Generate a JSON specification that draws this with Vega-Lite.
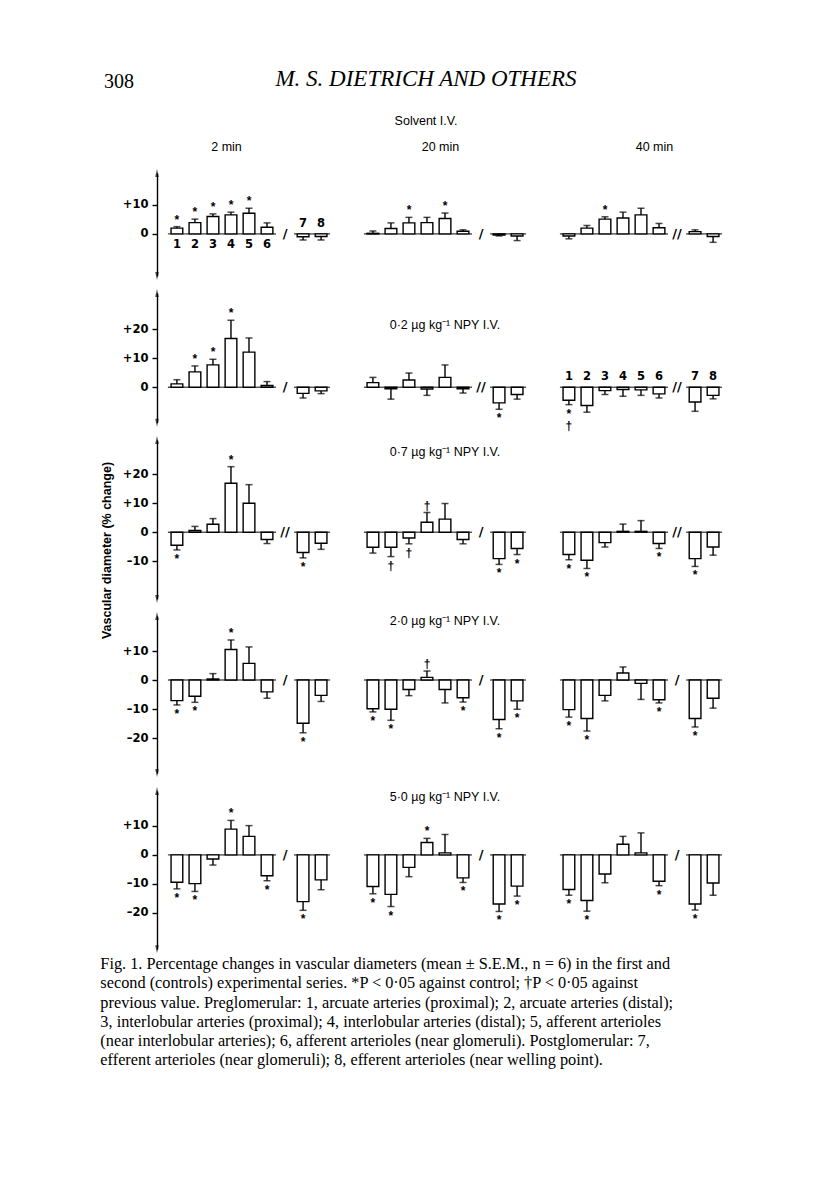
{
"$schema": "https://vega.github.io/schema/vega-lite/v6.json",
"background": "white",
"padding": {"left": 100, "top": 68, "right": 5, "bottom": 5},
"title": {"text": ["Fig. 1. Percentage changes in vascular diameters (mean ± S.E.M., n = 6) in the first and", "second (controls) experimental series. *P < 0·05 against control; †P < 0·05 against", "previous value. Preglomerular: 1, arcuate arteries (proximal); 2, arcuate arteries (distal);", "3, interlobular arteries (proximal); 4, interlobular arteries (distal); 5, afferent arterioles", "(near interlobular arteries); 6, afferent arterioles (near glomeruli). Postglomerular: 7,", "efferent arterioles (near glomeruli); 8, efferent arterioles (near welling point)."], "orient": "bottom", "anchor": "start", "frame": "bounds", "font": "Liberation Serif", "fontSize": 16.3, "fontWeight": "normal", "lineHeight": 19.2, "baseline": "top", "offset": 3, "color": "black"},
"datasets": {
"bars": [
{"dose":"Solvent","time":"2 min","vessel":"1","mean":2.0,"tip":2.5,"sig":"*","num":"1"},
{"dose":"Solvent","time":"2 min","vessel":"2","mean":3.9,"tip":5.1,"sig":"*","num":"2"},
{"dose":"Solvent","time":"2 min","vessel":"3","mean":6.0,"tip":6.9,"sig":"*","num":"3"},
{"dose":"Solvent","time":"2 min","vessel":"4","mean":6.55,"tip":7.5,"sig":"*","num":"4"},
{"dose":"Solvent","time":"2 min","vessel":"5","mean":7.1,"tip":8.85,"sig":"*","num":"5"},
{"dose":"Solvent","time":"2 min","vessel":"6","mean":2.3,"tip":3.8,"num":"6"},
{"dose":"Solvent","time":"2 min","vessel":"7","mean":-1.0,"tip":-2.1,"num":"7","brk":"/"},
{"dose":"Solvent","time":"2 min","vessel":"8","mean":-0.9,"tip":-2.1,"num":"8"},
{"dose":"Solvent","time":"20 min","vessel":"1","mean":0.2,"tip":1.0},
{"dose":"Solvent","time":"20 min","vessel":"2","mean":1.85,"tip":3.8},
{"dose":"Solvent","time":"20 min","vessel":"3","mean":3.8,"tip":5.7,"sig":"*"},
{"dose":"Solvent","time":"20 min","vessel":"4","mean":3.9,"tip":5.7},
{"dose":"Solvent","time":"20 min","vessel":"5","mean":5.3,"tip":7.2,"sig":"*"},
{"dose":"Solvent","time":"20 min","vessel":"6","mean":0.9,"tip":1.4},
{"dose":"Solvent","time":"20 min","vessel":"7","mean":-0.4,"tip":-0.7,"brk":"/"},
{"dose":"Solvent","time":"20 min","vessel":"8","mean":-0.7,"tip":-2.3},
{"dose":"Solvent","time":"40 min","vessel":"1","mean":-0.7,"tip":-1.7},
{"dose":"Solvent","time":"40 min","vessel":"2","mean":2.0,"tip":2.9},
{"dose":"Solvent","time":"40 min","vessel":"3","mean":5.1,"tip":5.9,"sig":"*"},
{"dose":"Solvent","time":"40 min","vessel":"4","mean":5.5,"tip":7.5},
{"dose":"Solvent","time":"40 min","vessel":"5","mean":6.55,"tip":8.85},
{"dose":"Solvent","time":"40 min","vessel":"6","mean":2.1,"tip":3.6},
{"dose":"Solvent","time":"40 min","vessel":"7","mean":0.8,"tip":1.4,"brk":"//"},
{"dose":"Solvent","time":"40 min","vessel":"8","mean":-0.9,"tip":-2.9},
{"dose":"0·2","time":"2 min","vessel":"1","mean":1.15,"tip":2.6},
{"dose":"0·2","time":"2 min","vessel":"2","mean":5.3,"tip":7.35,"sig":"*"},
{"dose":"0·2","time":"2 min","vessel":"3","mean":7.7,"tip":9.65,"sig":"*"},
{"dose":"0·2","time":"2 min","vessel":"4","mean":16.8,"tip":23.1,"sig":"*"},
{"dose":"0·2","time":"2 min","vessel":"5","mean":12.1,"tip":17.0},
{"dose":"0·2","time":"2 min","vessel":"6","mean":0.6,"tip":1.95},
{"dose":"0·2","time":"2 min","vessel":"7","mean":-2.1,"tip":-3.7,"brk":"/"},
{"dose":"0·2","time":"2 min","vessel":"8","mean":-1.25,"tip":-2.2},
{"dose":"0·2","time":"20 min","vessel":"1","mean":1.6,"tip":3.4},
{"dose":"0·2","time":"20 min","vessel":"2","mean":-0.5,"tip":-4.1},
{"dose":"0·2","time":"20 min","vessel":"3","mean":2.5,"tip":4.9},
{"dose":"0·2","time":"20 min","vessel":"4","mean":-0.6,"tip":-2.8},
{"dose":"0·2","time":"20 min","vessel":"5","mean":3.4,"tip":7.7},
{"dose":"0·2","time":"20 min","vessel":"6","mean":-0.5,"tip":-2.0},
{"dose":"0·2","time":"20 min","vessel":"7","mean":-5.4,"tip":-7.6,"sig":"*","brk":"//"},
{"dose":"0·2","time":"20 min","vessel":"8","mean":-2.5,"tip":-4.1},
{"dose":"0·2","time":"40 min","vessel":"1","mean":-4.5,"tip":-6.0,"sig":"*\n†","num":"1"},
{"dose":"0·2","time":"40 min","vessel":"2","mean":-6.3,"tip":-8.6,"num":"2"},
{"dose":"0·2","time":"40 min","vessel":"3","mean":-1.15,"tip":-2.5,"num":"3"},
{"dose":"0·2","time":"40 min","vessel":"4","mean":-0.8,"tip":-3.1,"num":"4"},
{"dose":"0·2","time":"40 min","vessel":"5","mean":-0.9,"tip":-2.8,"num":"5"},
{"dose":"0·2","time":"40 min","vessel":"6","mean":-2.3,"tip":-3.7,"num":"6"},
{"dose":"0·2","time":"40 min","vessel":"7","mean":-5.1,"tip":-8.3,"num":"7","brk":"//"},
{"dose":"0·2","time":"40 min","vessel":"8","mean":-2.8,"tip":-4.0,"num":"8"},
{"dose":"0·7","time":"2 min","vessel":"1","mean":-4.5,"tip":-6.1,"sig":"*"},
{"dose":"0·7","time":"2 min","vessel":"2","mean":0.6,"tip":2.0},
{"dose":"0·7","time":"2 min","vessel":"3","mean":2.75,"tip":4.7},
{"dose":"0·7","time":"2 min","vessel":"4","mean":16.9,"tip":22.6,"sig":"*"},
{"dose":"0·7","time":"2 min","vessel":"5","mean":10.0,"tip":16.4},
{"dose":"0·7","time":"2 min","vessel":"6","mean":-2.5,"tip":-3.9},
{"dose":"0·7","time":"2 min","vessel":"7","mean":-7.0,"tip":-8.85,"sig":"*","brk":"//"},
{"dose":"0·7","time":"2 min","vessel":"8","mean":-3.8,"tip":-5.9},
{"dose":"0·7","time":"20 min","vessel":"1","mean":-5.2,"tip":-7.2},
{"dose":"0·7","time":"20 min","vessel":"2","mean":-5.2,"tip":-8.4,"sig":"†"},
{"dose":"0·7","time":"20 min","vessel":"3","mean":-2.0,"tip":-4.0,"sig":"†"},
{"dose":"0·7","time":"20 min","vessel":"4","mean":3.45,"tip":6.8,"sig":"†"},
{"dose":"0·7","time":"20 min","vessel":"5","mean":4.5,"tip":9.9},
{"dose":"0·7","time":"20 min","vessel":"6","mean":-2.5,"tip":-4.0},
{"dose":"0·7","time":"20 min","vessel":"7","mean":-9.1,"tip":-11.1,"sig":"*","brk":"/"},
{"dose":"0·7","time":"20 min","vessel":"8","mean":-5.6,"tip":-7.7,"sig":"*"},
{"dose":"0·7","time":"40 min","vessel":"1","mean":-7.7,"tip":-9.5,"sig":"*"},
{"dose":"0·7","time":"40 min","vessel":"2","mean":-9.65,"tip":-12.5,"sig":"*"},
{"dose":"0·7","time":"40 min","vessel":"3","mean":-3.6,"tip":-5.1},
{"dose":"0·7","time":"40 min","vessel":"4","mean":0.3,"tip":2.8},
{"dose":"0·7","time":"40 min","vessel":"5","mean":0.3,"tip":4.0},
{"dose":"0·7","time":"40 min","vessel":"6","mean":-3.9,"tip":-5.6,"sig":"*"},
{"dose":"0·7","time":"40 min","vessel":"7","mean":-9.1,"tip":-11.8,"sig":"*","brk":"//"},
{"dose":"0·7","time":"40 min","vessel":"8","mean":-5.1,"tip":-7.9},
{"dose":"2·0","time":"2 min","vessel":"1","mean":-7.1,"tip":-8.6,"sig":"*"},
{"dose":"2·0","time":"2 min","vessel":"2","mean":-5.6,"tip":-7.7,"sig":"*"},
{"dose":"2·0","time":"2 min","vessel":"3","mean":0.35,"tip":2.2},
{"dose":"2·0","time":"2 min","vessel":"4","mean":10.5,"tip":13.8,"sig":"*"},
{"dose":"2·0","time":"2 min","vessel":"5","mean":5.75,"tip":11.4},
{"dose":"2·0","time":"2 min","vessel":"6","mean":-4.1,"tip":-6.3},
{"dose":"2·0","time":"2 min","vessel":"7","mean":-14.9,"tip":-18.2,"sig":"*","brk":"/"},
{"dose":"2·0","time":"2 min","vessel":"8","mean":-5.3,"tip":-7.4},
{"dose":"2·0","time":"20 min","vessel":"1","mean":-9.9,"tip":-11.0,"sig":"*"},
{"dose":"2·0","time":"20 min","vessel":"2","mean":-10.1,"tip":-13.9,"sig":"*"},
{"dose":"2·0","time":"20 min","vessel":"3","mean":-3.3,"tip":-5.4},
{"dose":"2·0","time":"20 min","vessel":"4","mean":0.9,"tip":3.1,"sig":"†"},
{"dose":"2·0","time":"20 min","vessel":"5","mean":-3.3,"tip":-7.9},
{"dose":"2·0","time":"20 min","vessel":"6","mean":-6.1,"tip":-7.6,"sig":"*"},
{"dose":"2·0","time":"20 min","vessel":"7","mean":-13.6,"tip":-16.8,"sig":"*","brk":"/"},
{"dose":"2·0","time":"20 min","vessel":"8","mean":-7.2,"tip":-10.1,"sig":"*"},
{"dose":"2·0","time":"40 min","vessel":"1","mean":-10.2,"tip":-12.8,"sig":"*"},
{"dose":"2·0","time":"40 min","vessel":"2","mean":-13.3,"tip":-17.6,"sig":"*"},
{"dose":"2·0","time":"40 min","vessel":"3","mean":-5.3,"tip":-7.2},
{"dose":"2·0","time":"40 min","vessel":"4","mean":2.4,"tip":4.5},
{"dose":"2·0","time":"40 min","vessel":"5","mean":-1.15,"tip":-6.7},
{"dose":"2·0","time":"40 min","vessel":"6","mean":-6.8,"tip":-7.9,"sig":"*"},
{"dose":"2·0","time":"40 min","vessel":"7","mean":-13.3,"tip":-16.2,"sig":"*","brk":"/"},
{"dose":"2·0","time":"40 min","vessel":"8","mean":-6.3,"tip":-9.7},
{"dose":"5·0","time":"2 min","vessel":"1","mean":-9.4,"tip":-11.7,"sig":"*"},
{"dose":"5·0","time":"2 min","vessel":"2","mean":-9.9,"tip":-12.6,"sig":"*"},
{"dose":"5·0","time":"2 min","vessel":"3","mean":-1.4,"tip":-3.5},
{"dose":"5·0","time":"2 min","vessel":"4","mean":8.9,"tip":11.9,"sig":"*"},
{"dose":"5·0","time":"2 min","vessel":"5","mean":6.4,"tip":10.1},
{"dose":"5·0","time":"2 min","vessel":"6","mean":-7.2,"tip":-8.9,"sig":"*"},
{"dose":"5·0","time":"2 min","vessel":"7","mean":-16.1,"tip":-19.1,"sig":"*","brk":"/"},
{"dose":"5·0","time":"2 min","vessel":"8","mean":-8.6,"tip":-12.0},
{"dose":"5·0","time":"20 min","vessel":"1","mean":-10.9,"tip":-13.4,"sig":"*"},
{"dose":"5·0","time":"20 min","vessel":"2","mean":-13.6,"tip":-17.8,"sig":"*"},
{"dose":"5·0","time":"20 min","vessel":"3","mean":-4.3,"tip":-7.5},
{"dose":"5·0","time":"20 min","vessel":"4","mean":4.3,"tip":5.7,"sig":"*"},
{"dose":"5·0","time":"20 min","vessel":"5","mean":0.7,"tip":7.05},
{"dose":"5·0","time":"20 min","vessel":"6","mean":-7.9,"tip":-9.5,"sig":"*"},
{"dose":"5·0","time":"20 min","vessel":"7","mean":-16.9,"tip":-19.5,"sig":"*","brk":"/"},
{"dose":"5·0","time":"20 min","vessel":"8","mean":-10.75,"tip":-14.2,"sig":"*"},
{"dose":"5·0","time":"40 min","vessel":"1","mean":-11.9,"tip":-13.9,"sig":"*"},
{"dose":"5·0","time":"40 min","vessel":"2","mean":-15.7,"tip":-19.4,"sig":"*"},
{"dose":"5·0","time":"40 min","vessel":"3","mean":-6.6,"tip":-9.6},
{"dose":"5·0","time":"40 min","vessel":"4","mean":3.7,"tip":6.4},
{"dose":"5·0","time":"40 min","vessel":"5","mean":0.7,"tip":7.6},
{"dose":"5·0","time":"40 min","vessel":"6","mean":-9.1,"tip":-10.6,"sig":"*"},
{"dose":"5·0","time":"40 min","vessel":"7","mean":-16.9,"tip":-19.0,"sig":"*","brk":"/"},
{"dose":"5·0","time":"40 min","vessel":"8","mean":-9.7,"tip":-13.9}
]
},
"columns": 3,
"spacing": {"row": 17, "column": 12},
"bounds": "flush",
"concat": [
{"width": 184, "height": 102.95, "data": {"name": "bars"}, "transform": [{"filter": "datum.dose == 'Solvent' && datum.time == '2 min'"}],
 "title": {"text": "308", "anchor": "start", "frame": "group", "dx": -53, "baseline": "alphabetic", "offset": 31.8, "font": "Liberation Serif", "fontSize": 20, "fontWeight": "normal", "color": "black"},
 "encoding": {"x": {"field": "vessel", "type": "ordinal", "scale": {"domain": ["1","2","3","4","5","6","gap","7","8"], "paddingInner": 0.35, "paddingOuter": 0.78}, "axis": {"orient": "top", "labels": false, "ticks": false, "domain": false, "title": "2 min", "titleX": 69, "titleY": -23, "titleBaseline": "alphabetic", "titleAlign": "center", "titleFont": "Liberation Sans", "titleFontSize": 12.5, "titleFontWeight": "normal"}}},
 "layer": [
  {"mark": {"type": "tick", "thickness": 1.4, "size": 18}, "encoding": {"y": {"datum": 0}}},
  {"mark": {"type": "bar", "fill": "white", "stroke": "black", "strokeWidth": 1.4}, "encoding": {"y": {"field": "mean", "type": "quantitative", "scale": {"domain": [-14.5, 21], "nice": false, "zero": false}, "axis": {"values": [0, 10], "title": null}}, "y2": {"datum": 0}}},
  {"mark": {"type": "rule", "strokeWidth": 1.4}, "encoding": {"y": {"field": "mean", "type": "quantitative"}, "y2": {"field": "tip"}}},
  {"mark": {"type": "tick", "thickness": 1.5, "size": 7}, "encoding": {"y": {"field": "tip", "type": "quantitative"}}},
  {"transform": [{"filter": "datum.sig && datum.mean >= 0"}], "mark": {"type": "text", "style": "sigp"}, "encoding": {"y": {"field": "tip", "type": "quantitative"}, "text": {"field": "sig"}}},
  {"transform": [{"filter": "datum.sig && datum.mean < 0"}], "mark": {"type": "text", "style": "sign"}, "encoding": {"y": {"field": "tip", "type": "quantitative"}, "text": {"field": "sig"}}},
  {"transform": [{"filter": "datum.num && datum.mean >= 0"}], "mark": {"type": "text", "style": "nump"}, "encoding": {"y": {"datum": 0}, "text": {"field": "num"}}},
  {"transform": [{"filter": "datum.num && datum.mean < 0"}], "mark": {"type": "text", "style": "numn"}, "encoding": {"y": {"datum": 0}, "text": {"field": "num"}}},
  {"transform": [{"filter": "datum.brk"}], "mark": {"type": "text", "style": "brk"}, "encoding": {"x": {"datum": "gap", "axis": {"orient": "top", "labels": false, "ticks": false, "domain": false, "title": "2 min", "titleX": 69, "titleY": -23, "titleBaseline": "alphabetic", "titleAlign": "center", "titleFont": "Liberation Sans", "titleFontSize": 12.5, "titleFontWeight": "normal"}}, "y": {"datum": 0}, "text": {"field": "brk"}}},
  {"transform": [{"filter": "datum.vessel == '1'"}], "mark": {"type": "point", "shape": "M0,-1L0.45,1L-0.45,1Z", "filled": true, "size": 64, "strokeWidth": 0}, "encoding": {"x": {"value": 0}, "y": {"datum": 21}}},
  {"transform": [{"filter": "datum.vessel == '1'"}], "mark": {"type": "point", "shape": "M0,1L0.45,-1L-0.45,-1Z", "filled": true, "size": 64, "strokeWidth": 0}, "encoding": {"x": {"value": 0}, "y": {"datum": -14.5}}}
 ]},
{"width": 184, "height": 102.95, "data": {"name": "bars"}, "transform": [{"filter": "datum.dose == 'Solvent' && datum.time == '20 min'"}],
 "title": {"text": "M. S. DIETRICH AND OTHERS", "subtitle": "Solvent I.V.", "anchor": "middle", "frame": "group", "dx": -19, "baseline": "alphabetic", "offset": -5.6, "font": "Liberation Serif", "fontStyle": "italic", "fontSize": 23, "fontWeight": "normal", "color": "black", "subtitleFont": "Liberation Sans", "subtitleFontSize": 12.5, "subtitleColor": "black", "subtitlePadding": 16},
 "encoding": {"x": {"field": "vessel", "type": "ordinal", "scale": {"domain": ["1","2","3","4","5","6","gap","7","8"], "paddingInner": 0.35, "paddingOuter": 0.78}, "axis": {"orient": "top", "labels": false, "ticks": false, "domain": false, "title": "20 min", "titleX": 87, "titleY": -23, "titleBaseline": "alphabetic", "titleAlign": "center", "titleFont": "Liberation Sans", "titleFontSize": 12.5, "titleFontWeight": "normal"}}},
 "layer": [
  {"mark": {"type": "tick", "thickness": 1.4, "size": 18}, "encoding": {"y": {"datum": 0, "axis": null}}},
  {"mark": {"type": "bar", "fill": "white", "stroke": "black", "strokeWidth": 1.4}, "encoding": {"y": {"field": "mean", "type": "quantitative", "scale": {"domain": [-14.5, 21], "nice": false, "zero": false}, "axis": null}, "y2": {"datum": 0}}},
  {"mark": {"type": "rule", "strokeWidth": 1.4}, "encoding": {"y": {"field": "mean", "type": "quantitative", "axis": null}, "y2": {"field": "tip"}}},
  {"mark": {"type": "tick", "thickness": 1.5, "size": 7}, "encoding": {"y": {"field": "tip", "type": "quantitative", "axis": null}}},
  {"transform": [{"filter": "datum.sig && datum.mean >= 0"}], "mark": {"type": "text", "style": "sigp"}, "encoding": {"y": {"field": "tip", "type": "quantitative", "axis": null}, "text": {"field": "sig"}}},
  {"transform": [{"filter": "datum.sig && datum.mean < 0"}], "mark": {"type": "text", "style": "sign"}, "encoding": {"y": {"field": "tip", "type": "quantitative", "axis": null}, "text": {"field": "sig"}}},
  {"transform": [{"filter": "datum.brk"}], "mark": {"type": "text", "style": "brk"}, "encoding": {"x": {"datum": "gap", "axis": {"orient": "top", "labels": false, "ticks": false, "domain": false, "title": "20 min", "titleX": 87, "titleY": -23, "titleBaseline": "alphabetic", "titleAlign": "center", "titleFont": "Liberation Sans", "titleFontSize": 12.5, "titleFontWeight": "normal"}}, "y": {"datum": 0, "axis": null}, "text": {"field": "brk"}}}
 ]},
{"width": 184, "height": 102.95, "data": {"name": "bars"}, "transform": [{"filter": "datum.dose == 'Solvent' && datum.time == '40 min'"}],
 "encoding": {"x": {"field": "vessel", "type": "ordinal", "scale": {"domain": ["1","2","3","4","5","6","gap","7","8"], "paddingInner": 0.35, "paddingOuter": 0.78}, "axis": {"orient": "top", "labels": false, "ticks": false, "domain": false, "title": "40 min", "titleX": 105, "titleY": -23, "titleBaseline": "alphabetic", "titleAlign": "center", "titleFont": "Liberation Sans", "titleFontSize": 12.5, "titleFontWeight": "normal"}}},
 "layer": [
  {"mark": {"type": "tick", "thickness": 1.4, "size": 18}, "encoding": {"y": {"datum": 0, "axis": null}}},
  {"mark": {"type": "bar", "fill": "white", "stroke": "black", "strokeWidth": 1.4}, "encoding": {"y": {"field": "mean", "type": "quantitative", "scale": {"domain": [-14.5, 21], "nice": false, "zero": false}, "axis": null}, "y2": {"datum": 0}}},
  {"mark": {"type": "rule", "strokeWidth": 1.4}, "encoding": {"y": {"field": "mean", "type": "quantitative", "axis": null}, "y2": {"field": "tip"}}},
  {"mark": {"type": "tick", "thickness": 1.5, "size": 7}, "encoding": {"y": {"field": "tip", "type": "quantitative", "axis": null}}},
  {"transform": [{"filter": "datum.sig && datum.mean >= 0"}], "mark": {"type": "text", "style": "sigp"}, "encoding": {"y": {"field": "tip", "type": "quantitative", "axis": null}, "text": {"field": "sig"}}},
  {"transform": [{"filter": "datum.sig && datum.mean < 0"}], "mark": {"type": "text", "style": "sign"}, "encoding": {"y": {"field": "tip", "type": "quantitative", "axis": null}, "text": {"field": "sig"}}},
  {"transform": [{"filter": "datum.brk"}], "mark": {"type": "text", "style": "brk"}, "encoding": {"x": {"datum": "gap", "axis": {"orient": "top", "labels": false, "ticks": false, "domain": false, "title": "40 min", "titleX": 105, "titleY": -23, "titleBaseline": "alphabetic", "titleAlign": "center", "titleFont": "Liberation Sans", "titleFontSize": 12.5, "titleFontWeight": "normal"}}, "y": {"datum": 0, "axis": null}, "text": {"field": "brk"}}}
 ]},
{"width": 184, "height": 129.63, "data": {"name": "bars"}, "transform": [{"filter": "datum.dose == '0·2' && datum.time == '2 min'"}],
 "encoding": {"x": {"field": "vessel", "type": "ordinal", "scale": {"domain": ["1","2","3","4","5","6","gap","7","8"], "paddingInner": 0.35, "paddingOuter": 0.78}, "axis": null}},
 "layer": [
  {"mark": {"type": "tick", "thickness": 1.4, "size": 18}, "encoding": {"y": {"datum": 0}}},
  {"mark": {"type": "bar", "fill": "white", "stroke": "black", "strokeWidth": 1.4}, "encoding": {"y": {"field": "mean", "type": "quantitative", "scale": {"domain": [-12.2, 32.5], "nice": false, "zero": false}, "axis": {"values": [0, 10, 20], "title": null}}, "y2": {"datum": 0}}},
  {"mark": {"type": "rule", "strokeWidth": 1.4}, "encoding": {"y": {"field": "mean", "type": "quantitative"}, "y2": {"field": "tip"}}},
  {"mark": {"type": "tick", "thickness": 1.5, "size": 7}, "encoding": {"y": {"field": "tip", "type": "quantitative"}}},
  {"transform": [{"filter": "datum.sig && datum.mean >= 0"}], "mark": {"type": "text", "style": "sigp"}, "encoding": {"y": {"field": "tip", "type": "quantitative"}, "text": {"field": "sig"}}},
  {"transform": [{"filter": "datum.sig && datum.mean < 0"}], "mark": {"type": "text", "style": "sign"}, "encoding": {"y": {"field": "tip", "type": "quantitative"}, "text": {"field": "sig"}}},
  {"transform": [{"filter": "datum.brk"}], "mark": {"type": "text", "style": "brk"}, "encoding": {"x": {"datum": "gap", "axis": null}, "y": {"datum": 0}, "text": {"field": "brk"}}},
  {"transform": [{"filter": "datum.vessel == '1'"}], "mark": {"type": "point", "shape": "M0,-1L0.45,1L-0.45,1Z", "filled": true, "size": 64, "strokeWidth": 0}, "encoding": {"x": {"value": 0}, "y": {"datum": 32.5}}},
  {"transform": [{"filter": "datum.vessel == '1'"}], "mark": {"type": "point", "shape": "M0,1L0.45,-1L-0.45,-1Z", "filled": true, "size": 64, "strokeWidth": 0}, "encoding": {"x": {"value": 0}, "y": {"datum": -12.2}}}
 ]},
{"width": 184, "height": 129.63, "data": {"name": "bars"}, "transform": [{"filter": "datum.dose == '0·2' && datum.time == '20 min'"}],
 "title": {"text": "0·2 µg kg⁻¹ NPY I.V.", "anchor": "middle", "frame": "group", "baseline": "alphabetic", "offset": -48.5, "font": "Liberation Sans", "fontSize": 12.5, "fontWeight": "normal", "color": "black"},
 "encoding": {"x": {"field": "vessel", "type": "ordinal", "scale": {"domain": ["1","2","3","4","5","6","gap","7","8"], "paddingInner": 0.35, "paddingOuter": 0.78}, "axis": null}},
 "layer": [
  {"mark": {"type": "tick", "thickness": 1.4, "size": 18}, "encoding": {"y": {"datum": 0, "axis": null}}},
  {"mark": {"type": "bar", "fill": "white", "stroke": "black", "strokeWidth": 1.4}, "encoding": {"y": {"field": "mean", "type": "quantitative", "scale": {"domain": [-12.2, 32.5], "nice": false, "zero": false}, "axis": null}, "y2": {"datum": 0}}},
  {"mark": {"type": "rule", "strokeWidth": 1.4}, "encoding": {"y": {"field": "mean", "type": "quantitative", "axis": null}, "y2": {"field": "tip"}}},
  {"mark": {"type": "tick", "thickness": 1.5, "size": 7}, "encoding": {"y": {"field": "tip", "type": "quantitative", "axis": null}}},
  {"transform": [{"filter": "datum.sig && datum.mean >= 0"}], "mark": {"type": "text", "style": "sigp"}, "encoding": {"y": {"field": "tip", "type": "quantitative", "axis": null}, "text": {"field": "sig"}}},
  {"transform": [{"filter": "datum.sig && datum.mean < 0"}], "mark": {"type": "text", "style": "sign"}, "encoding": {"y": {"field": "tip", "type": "quantitative", "axis": null}, "text": {"field": "sig"}}},
  {"transform": [{"filter": "datum.brk"}], "mark": {"type": "text", "style": "brk"}, "encoding": {"x": {"datum": "gap", "axis": null}, "y": {"datum": 0, "axis": null}, "text": {"field": "brk"}}}
 ]},
{"width": 184, "height": 129.63, "data": {"name": "bars"}, "transform": [{"filter": "datum.dose == '0·2' && datum.time == '40 min'"}],
 "encoding": {"x": {"field": "vessel", "type": "ordinal", "scale": {"domain": ["1","2","3","4","5","6","gap","7","8"], "paddingInner": 0.35, "paddingOuter": 0.78}, "axis": null}},
 "layer": [
  {"mark": {"type": "tick", "thickness": 1.4, "size": 18}, "encoding": {"y": {"datum": 0, "axis": null}}},
  {"mark": {"type": "bar", "fill": "white", "stroke": "black", "strokeWidth": 1.4}, "encoding": {"y": {"field": "mean", "type": "quantitative", "scale": {"domain": [-12.2, 32.5], "nice": false, "zero": false}, "axis": null}, "y2": {"datum": 0}}},
  {"mark": {"type": "rule", "strokeWidth": 1.4}, "encoding": {"y": {"field": "mean", "type": "quantitative", "axis": null}, "y2": {"field": "tip"}}},
  {"mark": {"type": "tick", "thickness": 1.5, "size": 7}, "encoding": {"y": {"field": "tip", "type": "quantitative", "axis": null}}},
  {"transform": [{"filter": "datum.sig && datum.mean >= 0"}], "mark": {"type": "text", "style": "sigp"}, "encoding": {"y": {"field": "tip", "type": "quantitative", "axis": null}, "text": {"field": "sig"}}},
  {"transform": [{"filter": "datum.sig && datum.mean < 0"}], "mark": {"type": "text", "style": "sign"}, "encoding": {"y": {"field": "tip", "type": "quantitative", "axis": null}, "text": {"field": "sig"}}},
  {"transform": [{"filter": "datum.num && datum.mean < 0"}], "mark": {"type": "text", "style": "numn", "dy": -7}, "encoding": {"y": {"datum": 0, "axis": null}, "text": {"field": "num"}}},
  {"transform": [{"filter": "datum.brk"}], "mark": {"type": "text", "style": "brk"}, "encoding": {"x": {"datum": "gap", "axis": null}, "y": {"datum": 0, "axis": null}, "text": {"field": "brk"}}}
 ]},
{"width": 184, "height": 158.92, "data": {"name": "bars"}, "transform": [{"filter": "datum.dose == '0·7' && datum.time == '2 min'"}],
 "encoding": {"x": {"field": "vessel", "type": "ordinal", "scale": {"domain": ["1","2","3","4","5","6","gap","7","8"], "paddingInner": 0.35, "paddingOuter": 0.78}, "axis": null}},
 "layer": [
  {"mark": {"type": "tick", "thickness": 1.4, "size": 18}, "encoding": {"y": {"datum": 0}}},
  {"mark": {"type": "bar", "fill": "white", "stroke": "black", "strokeWidth": 1.4}, "encoding": {"y": {"field": "mean", "type": "quantitative", "scale": {"domain": [-23, 31.8], "nice": false, "zero": false}, "axis": {"values": [-10, 0, 10, 20], "title": "Vascular diameter (% change)", "titleFont": "Liberation Sans", "titleFontWeight": "bold", "titleFontSize": 12.5, "titleY": 110, "titlePadding": 9}}, "y2": {"datum": 0}}},
  {"mark": {"type": "rule", "strokeWidth": 1.4}, "encoding": {"y": {"field": "mean", "type": "quantitative"}, "y2": {"field": "tip"}}},
  {"mark": {"type": "tick", "thickness": 1.5, "size": 7}, "encoding": {"y": {"field": "tip", "type": "quantitative"}}},
  {"transform": [{"filter": "datum.sig && datum.mean >= 0"}], "mark": {"type": "text", "style": "sigp"}, "encoding": {"y": {"field": "tip", "type": "quantitative"}, "text": {"field": "sig"}}},
  {"transform": [{"filter": "datum.sig && datum.mean < 0"}], "mark": {"type": "text", "style": "sign"}, "encoding": {"y": {"field": "tip", "type": "quantitative"}, "text": {"field": "sig"}}},
  {"transform": [{"filter": "datum.brk"}], "mark": {"type": "text", "style": "brk"}, "encoding": {"x": {"datum": "gap", "axis": null}, "y": {"datum": 0}, "text": {"field": "brk"}}},
  {"transform": [{"filter": "datum.vessel == '1'"}], "mark": {"type": "point", "shape": "M0,-1L0.45,1L-0.45,1Z", "filled": true, "size": 64, "strokeWidth": 0}, "encoding": {"x": {"value": 0}, "y": {"datum": 31.8}}},
  {"transform": [{"filter": "datum.vessel == '1'"}], "mark": {"type": "point", "shape": "M0,1L0.45,-1L-0.45,-1Z", "filled": true, "size": 64, "strokeWidth": 0}, "encoding": {"x": {"value": 0}, "y": {"datum": -23}}}
 ]},
{"width": 184, "height": 158.92, "data": {"name": "bars"}, "transform": [{"filter": "datum.dose == '0·7' && datum.time == '20 min'"}],
 "title": {"text": "0·7 µg kg⁻¹ NPY I.V.", "anchor": "middle", "frame": "group", "baseline": "alphabetic", "offset": -28.6, "font": "Liberation Sans", "fontSize": 12.5, "fontWeight": "normal", "color": "black"},
 "encoding": {"x": {"field": "vessel", "type": "ordinal", "scale": {"domain": ["1","2","3","4","5","6","gap","7","8"], "paddingInner": 0.35, "paddingOuter": 0.78}, "axis": null}},
 "layer": [
  {"mark": {"type": "tick", "thickness": 1.4, "size": 18}, "encoding": {"y": {"datum": 0, "axis": null}}},
  {"mark": {"type": "bar", "fill": "white", "stroke": "black", "strokeWidth": 1.4}, "encoding": {"y": {"field": "mean", "type": "quantitative", "scale": {"domain": [-23, 31.8], "nice": false, "zero": false}, "axis": null}, "y2": {"datum": 0}}},
  {"mark": {"type": "rule", "strokeWidth": 1.4}, "encoding": {"y": {"field": "mean", "type": "quantitative", "axis": null}, "y2": {"field": "tip"}}},
  {"mark": {"type": "tick", "thickness": 1.5, "size": 7}, "encoding": {"y": {"field": "tip", "type": "quantitative", "axis": null}}},
  {"transform": [{"filter": "datum.sig && datum.mean >= 0"}], "mark": {"type": "text", "style": "sigp"}, "encoding": {"y": {"field": "tip", "type": "quantitative", "axis": null}, "text": {"field": "sig"}}},
  {"transform": [{"filter": "datum.sig && datum.mean < 0"}], "mark": {"type": "text", "style": "sign"}, "encoding": {"y": {"field": "tip", "type": "quantitative", "axis": null}, "text": {"field": "sig"}}},
  {"transform": [{"filter": "datum.brk"}], "mark": {"type": "text", "style": "brk"}, "encoding": {"x": {"datum": "gap", "axis": null}, "y": {"datum": 0, "axis": null}, "text": {"field": "brk"}}}
 ]},
{"width": 184, "height": 158.92, "data": {"name": "bars"}, "transform": [{"filter": "datum.dose == '0·7' && datum.time == '40 min'"}],
 "encoding": {"x": {"field": "vessel", "type": "ordinal", "scale": {"domain": ["1","2","3","4","5","6","gap","7","8"], "paddingInner": 0.35, "paddingOuter": 0.78}, "axis": null}},
 "layer": [
  {"mark": {"type": "tick", "thickness": 1.4, "size": 18}, "encoding": {"y": {"datum": 0, "axis": null}}},
  {"mark": {"type": "bar", "fill": "white", "stroke": "black", "strokeWidth": 1.4}, "encoding": {"y": {"field": "mean", "type": "quantitative", "scale": {"domain": [-23, 31.8], "nice": false, "zero": false}, "axis": null}, "y2": {"datum": 0}}},
  {"mark": {"type": "rule", "strokeWidth": 1.4}, "encoding": {"y": {"field": "mean", "type": "quantitative", "axis": null}, "y2": {"field": "tip"}}},
  {"mark": {"type": "tick", "thickness": 1.5, "size": 7}, "encoding": {"y": {"field": "tip", "type": "quantitative", "axis": null}}},
  {"transform": [{"filter": "datum.sig && datum.mean >= 0"}], "mark": {"type": "text", "style": "sigp"}, "encoding": {"y": {"field": "tip", "type": "quantitative", "axis": null}, "text": {"field": "sig"}}},
  {"transform": [{"filter": "datum.sig && datum.mean < 0"}], "mark": {"type": "text", "style": "sign"}, "encoding": {"y": {"field": "tip", "type": "quantitative", "axis": null}, "text": {"field": "sig"}}},
  {"transform": [{"filter": "datum.brk"}], "mark": {"type": "text", "style": "brk"}, "encoding": {"x": {"datum": "gap", "axis": null}, "y": {"datum": 0, "axis": null}, "text": {"field": "brk"}}}
 ]},
{"width": 184, "height": 157.09, "data": {"name": "bars"}, "transform": [{"filter": "datum.dose == '2·0' && datum.time == '2 min'"}],
 "encoding": {"x": {"field": "vessel", "type": "ordinal", "scale": {"domain": ["1","2","3","4","5","6","gap","7","8"], "paddingInner": 0.35, "paddingOuter": 0.78}, "axis": null}},
 "layer": [
  {"mark": {"type": "tick", "thickness": 1.4, "size": 18}, "encoding": {"y": {"datum": 0}}},
  {"mark": {"type": "bar", "fill": "white", "stroke": "black", "strokeWidth": 1.4}, "encoding": {"y": {"field": "mean", "type": "quantitative", "scale": {"domain": [-32.1, 22.07], "nice": false, "zero": false}, "axis": {"values": [-20, -10, 0, 10], "title": null}}, "y2": {"datum": 0}}},
  {"mark": {"type": "rule", "strokeWidth": 1.4}, "encoding": {"y": {"field": "mean", "type": "quantitative"}, "y2": {"field": "tip"}}},
  {"mark": {"type": "tick", "thickness": 1.5, "size": 7}, "encoding": {"y": {"field": "tip", "type": "quantitative"}}},
  {"transform": [{"filter": "datum.sig && datum.mean >= 0"}], "mark": {"type": "text", "style": "sigp"}, "encoding": {"y": {"field": "tip", "type": "quantitative"}, "text": {"field": "sig"}}},
  {"transform": [{"filter": "datum.sig && datum.mean < 0"}], "mark": {"type": "text", "style": "sign"}, "encoding": {"y": {"field": "tip", "type": "quantitative"}, "text": {"field": "sig"}}},
  {"transform": [{"filter": "datum.brk"}], "mark": {"type": "text", "style": "brk"}, "encoding": {"x": {"datum": "gap", "axis": null}, "y": {"datum": 0}, "text": {"field": "brk"}}},
  {"transform": [{"filter": "datum.vessel == '1'"}], "mark": {"type": "point", "shape": "M0,-1L0.45,1L-0.45,1Z", "filled": true, "size": 64, "strokeWidth": 0}, "encoding": {"x": {"value": 0}, "y": {"datum": 22.07}}},
  {"transform": [{"filter": "datum.vessel == '1'"}], "mark": {"type": "point", "shape": "M0,1L0.45,-1L-0.45,-1Z", "filled": true, "size": 64, "strokeWidth": 0}, "encoding": {"x": {"value": 0}, "y": {"datum": -32.1}}}
 ]},
{"width": 184, "height": 157.09, "data": {"name": "bars"}, "transform": [{"filter": "datum.dose == '2·0' && datum.time == '20 min'"}],
 "title": {"text": "2·0 µg kg⁻¹ NPY I.V.", "anchor": "middle", "frame": "group", "baseline": "alphabetic", "offset": -21, "font": "Liberation Sans", "fontSize": 12.5, "fontWeight": "normal", "color": "black"},
 "encoding": {"x": {"field": "vessel", "type": "ordinal", "scale": {"domain": ["1","2","3","4","5","6","gap","7","8"], "paddingInner": 0.35, "paddingOuter": 0.78}, "axis": null}},
 "layer": [
  {"mark": {"type": "tick", "thickness": 1.4, "size": 18}, "encoding": {"y": {"datum": 0, "axis": null}}},
  {"mark": {"type": "bar", "fill": "white", "stroke": "black", "strokeWidth": 1.4}, "encoding": {"y": {"field": "mean", "type": "quantitative", "scale": {"domain": [-32.1, 22.07], "nice": false, "zero": false}, "axis": null}, "y2": {"datum": 0}}},
  {"mark": {"type": "rule", "strokeWidth": 1.4}, "encoding": {"y": {"field": "mean", "type": "quantitative", "axis": null}, "y2": {"field": "tip"}}},
  {"mark": {"type": "tick", "thickness": 1.5, "size": 7}, "encoding": {"y": {"field": "tip", "type": "quantitative", "axis": null}}},
  {"transform": [{"filter": "datum.sig && datum.mean >= 0"}], "mark": {"type": "text", "style": "sigp"}, "encoding": {"y": {"field": "tip", "type": "quantitative", "axis": null}, "text": {"field": "sig"}}},
  {"transform": [{"filter": "datum.sig && datum.mean < 0"}], "mark": {"type": "text", "style": "sign"}, "encoding": {"y": {"field": "tip", "type": "quantitative", "axis": null}, "text": {"field": "sig"}}},
  {"transform": [{"filter": "datum.brk"}], "mark": {"type": "text", "style": "brk"}, "encoding": {"x": {"datum": "gap", "axis": null}, "y": {"datum": 0, "axis": null}, "text": {"field": "brk"}}}
 ]},
{"width": 184, "height": 157.09, "data": {"name": "bars"}, "transform": [{"filter": "datum.dose == '2·0' && datum.time == '40 min'"}],
 "encoding": {"x": {"field": "vessel", "type": "ordinal", "scale": {"domain": ["1","2","3","4","5","6","gap","7","8"], "paddingInner": 0.35, "paddingOuter": 0.78}, "axis": null}},
 "layer": [
  {"mark": {"type": "tick", "thickness": 1.4, "size": 18}, "encoding": {"y": {"datum": 0, "axis": null}}},
  {"mark": {"type": "bar", "fill": "white", "stroke": "black", "strokeWidth": 1.4}, "encoding": {"y": {"field": "mean", "type": "quantitative", "scale": {"domain": [-32.1, 22.07], "nice": false, "zero": false}, "axis": null}, "y2": {"datum": 0}}},
  {"mark": {"type": "rule", "strokeWidth": 1.4}, "encoding": {"y": {"field": "mean", "type": "quantitative", "axis": null}, "y2": {"field": "tip"}}},
  {"mark": {"type": "tick", "thickness": 1.5, "size": 7}, "encoding": {"y": {"field": "tip", "type": "quantitative", "axis": null}}},
  {"transform": [{"filter": "datum.sig && datum.mean >= 0"}], "mark": {"type": "text", "style": "sigp"}, "encoding": {"y": {"field": "tip", "type": "quantitative", "axis": null}, "text": {"field": "sig"}}},
  {"transform": [{"filter": "datum.sig && datum.mean < 0"}], "mark": {"type": "text", "style": "sign"}, "encoding": {"y": {"field": "tip", "type": "quantitative", "axis": null}, "text": {"field": "sig"}}},
  {"transform": [{"filter": "datum.brk"}], "mark": {"type": "text", "style": "brk"}, "encoding": {"x": {"datum": "gap", "axis": null}, "y": {"datum": 0, "axis": null}, "text": {"field": "brk"}}}
 ]},
{"width": 184, "height": 158.17, "data": {"name": "bars"}, "transform": [{"filter": "datum.dose == '5·0' && datum.time == '2 min'"}],
 "encoding": {"x": {"field": "vessel", "type": "ordinal", "scale": {"domain": ["1","2","3","4","5","6","gap","7","8"], "paddingInner": 0.35, "paddingOuter": 0.78}, "axis": null}},
 "layer": [
  {"mark": {"type": "tick", "thickness": 1.4, "size": 18}, "encoding": {"y": {"datum": 0}}},
  {"mark": {"type": "bar", "fill": "white", "stroke": "black", "strokeWidth": 1.4}, "encoding": {"y": {"field": "mean", "type": "quantitative", "scale": {"domain": [-32.5, 22.04], "nice": false, "zero": false}, "axis": {"values": [-20, -10, 0, 10], "title": null}}, "y2": {"datum": 0}}},
  {"mark": {"type": "rule", "strokeWidth": 1.4}, "encoding": {"y": {"field": "mean", "type": "quantitative"}, "y2": {"field": "tip"}}},
  {"mark": {"type": "tick", "thickness": 1.5, "size": 7}, "encoding": {"y": {"field": "tip", "type": "quantitative"}}},
  {"transform": [{"filter": "datum.sig && datum.mean >= 0"}], "mark": {"type": "text", "style": "sigp"}, "encoding": {"y": {"field": "tip", "type": "quantitative"}, "text": {"field": "sig"}}},
  {"transform": [{"filter": "datum.sig && datum.mean < 0"}], "mark": {"type": "text", "style": "sign"}, "encoding": {"y": {"field": "tip", "type": "quantitative"}, "text": {"field": "sig"}}},
  {"transform": [{"filter": "datum.brk"}], "mark": {"type": "text", "style": "brk"}, "encoding": {"x": {"datum": "gap", "axis": null}, "y": {"datum": 0}, "text": {"field": "brk"}}},
  {"transform": [{"filter": "datum.vessel == '1'"}], "mark": {"type": "point", "shape": "M0,-1L0.45,1L-0.45,1Z", "filled": true, "size": 64, "strokeWidth": 0}, "encoding": {"x": {"value": 0}, "y": {"datum": 22.04}}},
  {"transform": [{"filter": "datum.vessel == '1'"}], "mark": {"type": "point", "shape": "M0,1L0.45,-1L-0.45,-1Z", "filled": true, "size": 64, "strokeWidth": 0}, "encoding": {"x": {"value": 0}, "y": {"datum": -32.5}}}
 ]},
{"width": 184, "height": 158.17, "data": {"name": "bars"}, "transform": [{"filter": "datum.dose == '5·0' && datum.time == '20 min'"}],
 "title": {"text": "5·0 µg kg⁻¹ NPY I.V.", "anchor": "middle", "frame": "group", "baseline": "alphabetic", "offset": -22.6, "font": "Liberation Sans", "fontSize": 12.5, "fontWeight": "normal", "color": "black"},
 "encoding": {"x": {"field": "vessel", "type": "ordinal", "scale": {"domain": ["1","2","3","4","5","6","gap","7","8"], "paddingInner": 0.35, "paddingOuter": 0.78}, "axis": null}},
 "layer": [
  {"mark": {"type": "tick", "thickness": 1.4, "size": 18}, "encoding": {"y": {"datum": 0, "axis": null}}},
  {"mark": {"type": "bar", "fill": "white", "stroke": "black", "strokeWidth": 1.4}, "encoding": {"y": {"field": "mean", "type": "quantitative", "scale": {"domain": [-32.5, 22.04], "nice": false, "zero": false}, "axis": null}, "y2": {"datum": 0}}},
  {"mark": {"type": "rule", "strokeWidth": 1.4}, "encoding": {"y": {"field": "mean", "type": "quantitative", "axis": null}, "y2": {"field": "tip"}}},
  {"mark": {"type": "tick", "thickness": 1.5, "size": 7}, "encoding": {"y": {"field": "tip", "type": "quantitative", "axis": null}}},
  {"transform": [{"filter": "datum.sig && datum.mean >= 0"}], "mark": {"type": "text", "style": "sigp"}, "encoding": {"y": {"field": "tip", "type": "quantitative", "axis": null}, "text": {"field": "sig"}}},
  {"transform": [{"filter": "datum.sig && datum.mean < 0"}], "mark": {"type": "text", "style": "sign"}, "encoding": {"y": {"field": "tip", "type": "quantitative", "axis": null}, "text": {"field": "sig"}}},
  {"transform": [{"filter": "datum.brk"}], "mark": {"type": "text", "style": "brk"}, "encoding": {"x": {"datum": "gap", "axis": null}, "y": {"datum": 0, "axis": null}, "text": {"field": "brk"}}}
 ]},
{"width": 184, "height": 158.17, "data": {"name": "bars"}, "transform": [{"filter": "datum.dose == '5·0' && datum.time == '40 min'"}],
 "encoding": {"x": {"field": "vessel", "type": "ordinal", "scale": {"domain": ["1","2","3","4","5","6","gap","7","8"], "paddingInner": 0.35, "paddingOuter": 0.78}, "axis": null}},
 "layer": [
  {"mark": {"type": "tick", "thickness": 1.4, "size": 18}, "encoding": {"y": {"datum": 0, "axis": null}}},
  {"mark": {"type": "bar", "fill": "white", "stroke": "black", "strokeWidth": 1.4}, "encoding": {"y": {"field": "mean", "type": "quantitative", "scale": {"domain": [-32.5, 22.04], "nice": false, "zero": false}, "axis": null}, "y2": {"datum": 0}}},
  {"mark": {"type": "rule", "strokeWidth": 1.4}, "encoding": {"y": {"field": "mean", "type": "quantitative", "axis": null}, "y2": {"field": "tip"}}},
  {"mark": {"type": "tick", "thickness": 1.5, "size": 7}, "encoding": {"y": {"field": "tip", "type": "quantitative", "axis": null}}},
  {"transform": [{"filter": "datum.sig && datum.mean >= 0"}], "mark": {"type": "text", "style": "sigp"}, "encoding": {"y": {"field": "tip", "type": "quantitative", "axis": null}, "text": {"field": "sig"}}},
  {"transform": [{"filter": "datum.sig && datum.mean < 0"}], "mark": {"type": "text", "style": "sign"}, "encoding": {"y": {"field": "tip", "type": "quantitative", "axis": null}, "text": {"field": "sig"}}},
  {"transform": [{"filter": "datum.brk"}], "mark": {"type": "text", "style": "brk"}, "encoding": {"x": {"datum": "gap", "axis": null}, "y": {"datum": 0, "axis": null}, "text": {"field": "brk"}}}
 ]}
],
"config": {
 "view": {"stroke": null},
 "font": "Liberation Sans",
 "mark": {"color": "black"},
 "style": {
  "sigp": {"baseline": "alphabetic", "dy": -3, "font": "Liberation Sans", "fontWeight": "bold", "fontSize": 12, "lineBreak": "\n", "lineHeight": 12.5, "fill": "black"},
  "sign": {"baseline": "alphabetic", "dy": 13, "font": "Liberation Sans", "fontWeight": "bold", "fontSize": 12, "lineBreak": "\n", "lineHeight": 12.5, "fill": "black"},
  "nump": {"baseline": "top", "dy": 5, "font": "DejaVu Sans", "fontWeight": "bold", "fontSize": 11.5},
  "numn": {"baseline": "alphabetic", "dy": -6.5, "font": "DejaVu Sans", "fontWeight": "bold", "fontSize": 11.5},
  "brk": {"baseline": "middle", "font": "DejaVu Sans", "fontWeight": "bold", "fontSize": 13}
 },
 "axis": {"grid": false, "domainColor": "black", "domainWidth": 1.4, "tickColor": "black", "tickWidth": 1.4, "tickSize": 5, "labelColor": "black", "labelFont": "DejaVu Sans", "labelFontWeight": "bold", "labelFontSize": 11.5, "labelPadding": 4, "titleColor": "black"},
 "axisY": {"labelExpr": "datum.value > 0 ? '+' + datum.value : datum.value < 0 ? '–' + abs(datum.value) : '0'"}
}
}
